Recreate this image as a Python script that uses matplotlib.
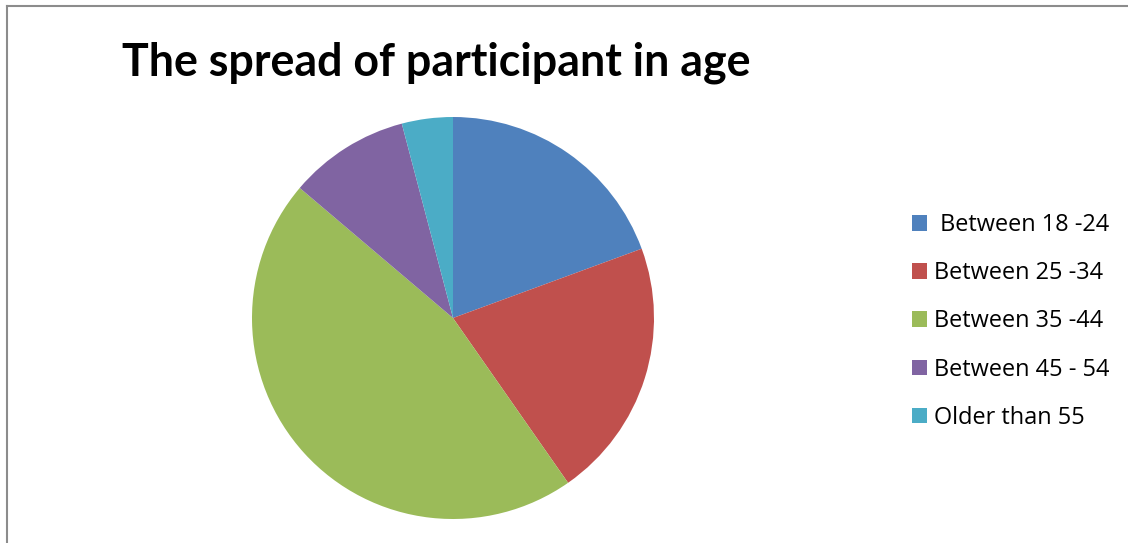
import matplotlib
matplotlib.use("Agg")
import matplotlib.pyplot as plt
from matplotlib.lines import Line2D
from matplotlib.patches import Patch

labels = [" Between 18 -24", "Between 25 -34", "Between 35 -44", "Between 45 - 54", "Older than 55"]
values = [19.4, 20.9, 45.9, 9.7, 4.1]
colors = ["#4F81BD", "#C0504D", "#9BBB59", "#8064A2", "#4BACC6"]
title = "The spread of participant in age"

W, H = 1128, 543
fig = plt.figure(figsize=(W / 100, H / 100), dpi=100)
fig.patch.set_facecolor("white")

cx, cy, r = 453, 318, 201
ax = fig.add_axes([(cx - r) / W, (H - cy - r) / H, 2 * r / W, 2 * r / H])
ax.pie(values, colors=colors, startangle=90, counterclock=False,
       wedgeprops=dict(linewidth=0))
ax.set_aspect("equal")
ax.set_xlim(-1, 1)
ax.set_ylim(-1, 1)
ax.axis("off")

# chart border (top and left visible)
fig.add_artist(Line2D([7 / W, 7 / W], [0, 1 - 6 / H], transform=fig.transFigure, color="#8c8c8c", lw=1.5))
fig.add_artist(Line2D([7 / W, 1], [1 - 6 / H, 1 - 6 / H], transform=fig.transFigure, color="#8c8c8c", lw=1.5))

fig.text(122 / W, 1 - 75 / H, title, fontsize=32.2, fontweight="bold", family="Lato",
         ha="left", va="baseline", color="black")

handles = [Patch(facecolor=c, edgecolor="none") for c in colors]
fig.legend(handles, labels, loc="upper left", bbox_to_anchor=(912 / W, 1 - 213 / H),
           frameon=False, prop=dict(family="Open Sans", size=16.9),
           handlelength=0.64, handleheight=0.64, handletextpad=0.3, labelspacing=1.03,
           borderpad=0, borderaxespad=0)

fig.savefig("out.png", dpi=100, facecolor="white")
